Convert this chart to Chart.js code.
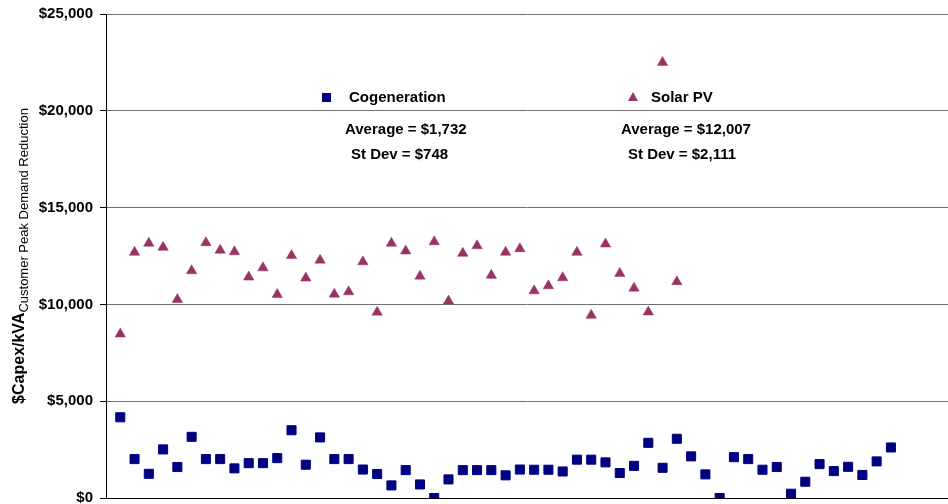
<!DOCTYPE html>
<html>
<head>
<meta charset="utf-8">
<script src="https://cdn.jsdelivr.net/npm/chart.js@4.4.1/dist/chart.umd.min.js"></script>
<style>
  html, body { margin: 0; padding: 0; background: #ffffff; }
  #wrap { width: 948px; height: 504px; position: relative; }
</style>
</head>
<body>
<div id="wrap"><canvas id="c"></canvas></div>
<script>
// ---- data ----
const seriesNames = ['Cogeneration', 'Solar PV'];

const cogenerationValues = [
  4170, 2010, 1250, 2510, 1600, 3160, 2010, 2010, 1530, 1800,
  1800, 2060, 3500, 1720, 3130, 2010, 2010, 1470, 1240, 650,
  1440, 700, 0, 960, 1440, 1440, 1440, 1170, 1470, 1460,
  1460, 1370, 1980, 1980, 1840, 1290, 1660, 2850, 1560, 3060,
  2150, 1220, 0, 2110, 2010, 1460, 1600, 220, 840, 1750,
  1390, 1610, 1190, 1890, 2610
];

const solarPVValues = [
  8470, 12690, 13160, 12950, 10250, 11740, 13190, 12800, 12720, 11410,
  11890, 10510, 12520, 11360, 12280, 10530, 10650, 12200, 9600, 13160,
  12760, 11460, 13230, 10170, 12640, 13030, 11500, 12690, 12880, 10700,
  10960, 11380, 12690, 9440, 13120, 11600, 10840, 9610, 22500, 11170
];

const cogenerationStats = ['Average = $1,732', 'St Dev = $748'];
const solarPVStats = ['Average = $12,007', 'St Dev = $2,111'];

const yTicks = [0, 5000, 10000, 15000, 20000, 25000];
const yTitleMain = '$Capex/kVA';
const yTitleSub = 'Customer Peak Demand Reduction';

const FONT = 'Arial, "Liberation Sans", sans-serif';
const COL_COGEN = '#000080';
const COL_SOLAR = '#993366';

const toPoints = vals => vals.map((v, i) => ({ x: i + 1, y: v }));

const annotationPlugin = {
  id: 'annot',
  afterDraw(chart) {
    const ctx = chart.ctx;
    ctx.save();
    // legend
    ctx.fillStyle = COL_COGEN;
    ctx.fillRect(322, 93, 9, 9);
    ctx.fillStyle = COL_SOLAR;
    ctx.beginPath();
    ctx.moveTo(633, 92);
    ctx.lineTo(638, 101);
    ctx.lineTo(628, 101);
    ctx.closePath();
    ctx.fill();

    ctx.fillStyle = '#000000';
    ctx.font = 'bold 15px ' + FONT;
    ctx.textBaseline = 'middle';
    ctx.textAlign = 'left';
    ctx.fillText(seriesNames[0], 349, 98);
    ctx.fillText(seriesNames[1], 651, 98);
    ctx.fillText(cogenerationStats[0], 345, 130);
    ctx.fillText(cogenerationStats[1], 351, 155);
    ctx.fillText(solarPVStats[0], 621, 130);
    ctx.fillText(solarPVStats[1], 628, 155);

    // y-axis title with subscript
    const area = chart.chartArea;
    const cy = (area.top + area.bottom) / 2;
    ctx.font = 'bold 16px ' + FONT;
    const wMain = ctx.measureText(yTitleMain).width;
    ctx.font = '13px ' + FONT;
    const wSub = ctx.measureText(yTitleSub).width;
    const total = wMain + wSub;
    ctx.translate(24, cy);
    ctx.rotate(-Math.PI / 2);
    ctx.textBaseline = 'alphabetic';
    ctx.font = 'bold 16px ' + FONT;
    ctx.fillText(yTitleMain, -total / 2, 0);
    ctx.font = '13px ' + FONT;
    ctx.fillText(yTitleSub, -total / 2 + wMain, 4);
    ctx.restore();
  }
};

new Chart(document.getElementById('c'), {
  type: 'scatter',
  data: {
    datasets: [
      {
        label: seriesNames[0],
        data: toPoints(cogenerationValues),
        pointStyle: 'rect',
        pointRadius: 6.4,
        pointHoverRadius: 6.4,
        borderWidth: 1,
        backgroundColor: COL_COGEN,
        borderColor: COL_COGEN
      },
      {
        label: seriesNames[1],
        data: toPoints(solarPVValues),
        pointStyle: 'triangle',
        pointRadius: 6,
        pointHoverRadius: 6,
        borderWidth: 0.5,
        backgroundColor: COL_SOLAR,
        borderColor: COL_SOLAR
      }
    ]
  },
  options: {
    responsive: true,
    maintainAspectRatio: false,
    animation: false,
    layout: { autoPadding: false, padding: { top: 14, bottom: 6, left: 0, right: 0 } },
    plugins: {
      legend: { display: false },
      tooltip: { enabled: false }
    },
    scales: {
      x: {
        type: 'linear',
        min: 0,
        max: 59,
        ticks: { display: false },
        grid: { display: false },
        border: { display: true, color: '#000000', width: 1 },
        afterFit(s) { s.height = 0; s.paddingLeft = 0; s.paddingRight = 0; }
      },
      y: {
        min: 0,
        max: 25000,
        afterBuildTicks(s) { s.ticks = yTicks.map(v => ({ value: v })); },
        ticks: {
          padding: 7,
          color: '#000000',
          font: { family: FONT, size: 15, weight: 'bold' },
          callback: v => '$' + Number(v).toLocaleString('en-US')
        },
        grid: {
          color: ctx => (ctx.tick && ctx.tick.value === 0) ? '#000000' : '#707070',
          lineWidth: 1,
          tickLength: 6,
          tickColor: '#000000'
        },
        border: { display: true, color: '#000000', width: 1 },
        afterFit(s) { s.width = 106; s.paddingTop = 0; s.paddingBottom = 0; }
      }
    }
  },
  plugins: [annotationPlugin]
});
</script>
</body>
</html>
